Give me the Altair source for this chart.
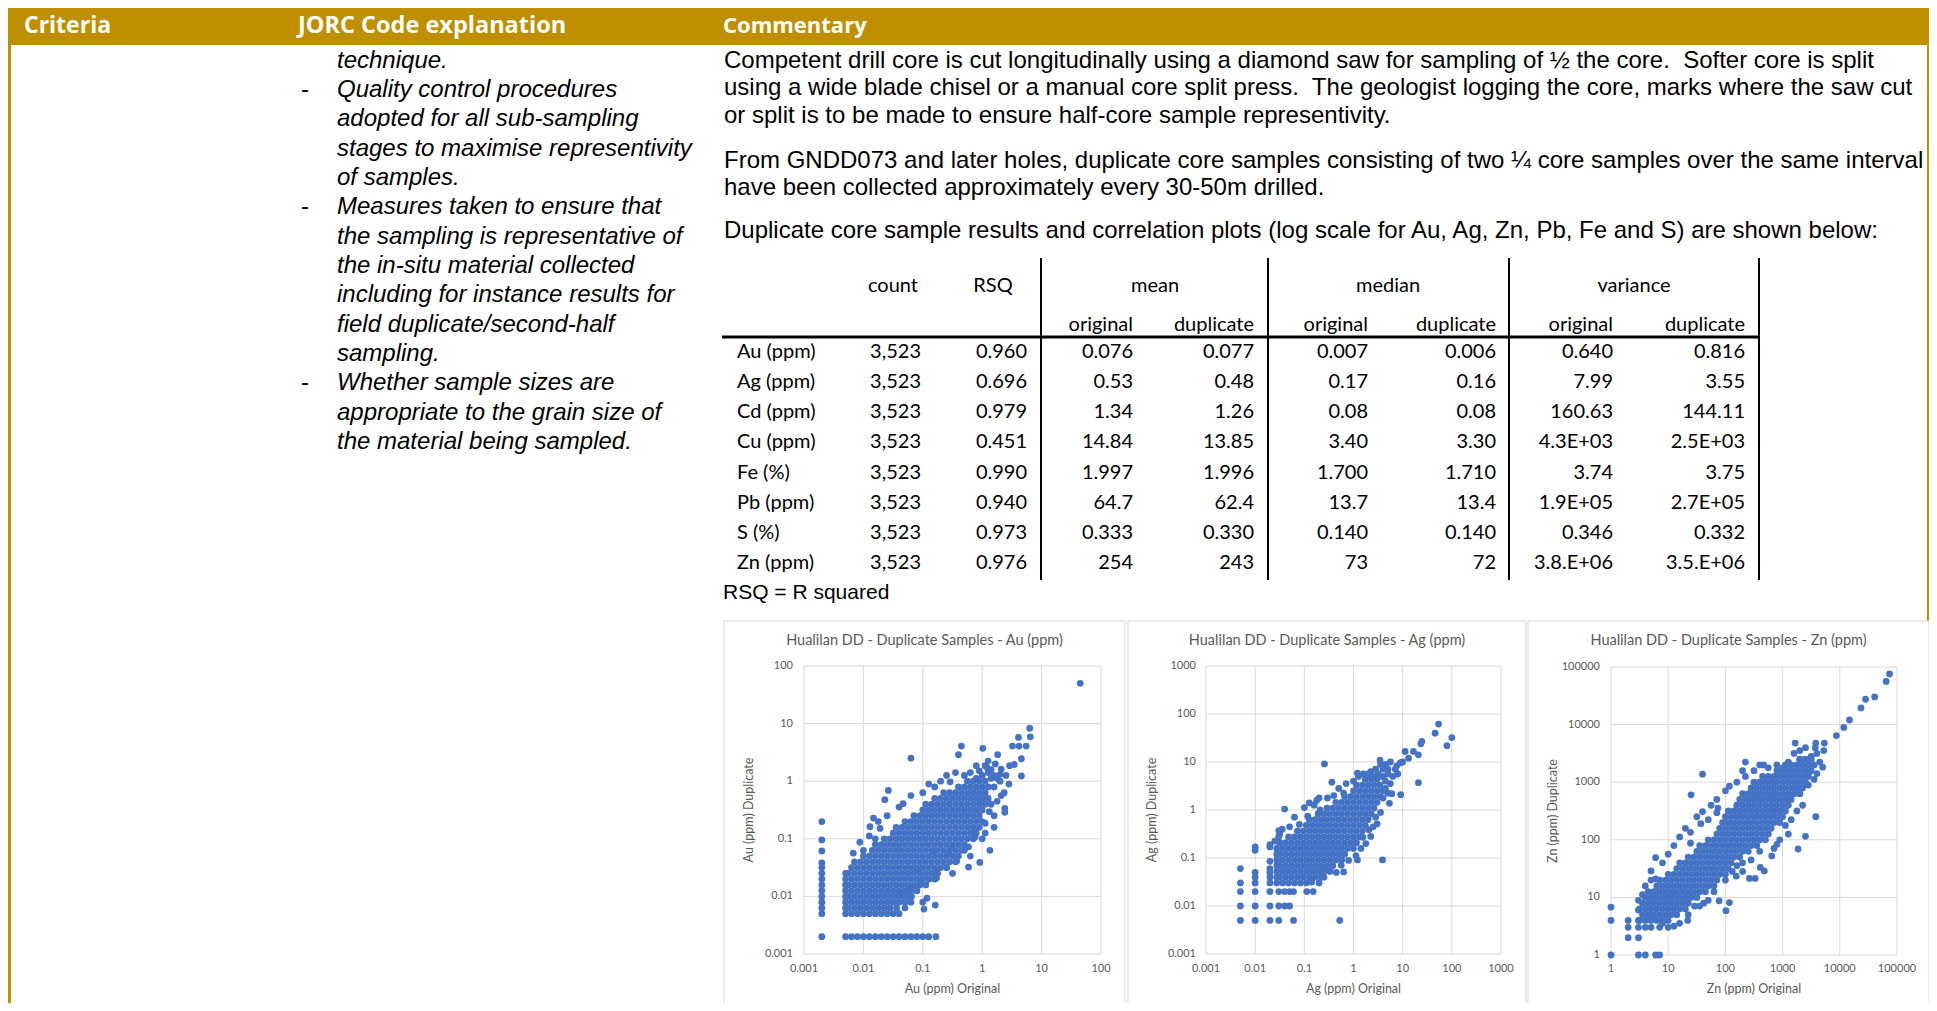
import altair as alt
import pandas as pd

# ------------------------------------------------------------------ text data
HEADERS = ["Criteria", "JORC Code explanation", "Commentary"]
LEFT_LINES = [
    "technique.",
    "Quality control procedures",
    "adopted for all sub-sampling",
    "stages to maximise representivity",
    "of samples.",
    "Measures taken to ensure that",
    "the sampling is representative of",
    "the in-situ material collected",
    "including for instance results for",
    "field duplicate/second-half",
    "sampling.",
    "Whether sample sizes are",
    "appropriate to the grain size of",
    "the material being sampled.",
]
BULLET_LINES = [1, 5, 11]      # left-column lines that start with a dash
PARA_1 = [
    "Competent drill core is cut longitudinally using a diamond saw for sampling of \u00bd the core.\u00a0 Softer core is split",
    "using a wide blade chisel or a manual core split press.\u00a0 The geologist logging the core, marks where the saw cut",
    "or split is to be made to ensure half-core sample representivity.",
]
PARA_2 = [
    "From GNDD073 and later holes, duplicate core samples consisting of two \u00bc core samples over the same interval",
    "have been collected approximately every 30-50m drilled.",
]
PARA_3 = ["Duplicate core sample results and correlation plots (log scale for Au, Ag, Zn, Pb, Fe and S) are shown below:"]
RSQ_NOTE = "RSQ = R squared"

# ------------------------------------------------------------------ table data
GROUPS = ["count", "RSQ", "mean", "median", "variance"]
SUBHEADS = ["original", "duplicate", "original", "duplicate", "original", "duplicate"]
ELEMENTS = ["Au (ppm)", "Ag (ppm)", "Cd (ppm)", "Cu (ppm)", "Fe (%)", "Pb (ppm)", "S (%)", "Zn (ppm)"]
COUNT = ["3,523"] * 8
RSQ = ["0.960", "0.696", "0.979", "0.451", "0.990", "0.940", "0.973", "0.976"]
MEAN_ORIG = ["0.076", "0.53", "1.34", "14.84", "1.997", "64.7", "0.333", "254"]
MEAN_DUP = ["0.077", "0.48", "1.26", "13.85", "1.996", "62.4", "0.330", "243"]
MEDIAN_ORIG = ["0.007", "0.17", "0.08", "3.40", "1.700", "13.7", "0.140", "73"]
MEDIAN_DUP = ["0.006", "0.16", "0.08", "3.30", "1.710", "13.4", "0.140", "72"]
VAR_ORIG = ["0.640", "7.99", "160.63", "4.3E+03", "3.74", "1.9E+05", "0.346", "3.8.E+06"]
VAR_DUP = ["0.816", "3.55", "144.11", "2.5E+03", "3.75", "2.7E+05", "0.332", "3.5.E+06"]

# ------------------------------------------------------------------ scatter data
CHART_TITLES = [
    "Hualilan DD - Duplicate Samples - Au (ppm)",
    "Hualilan DD - Duplicate Samples - Ag (ppm)",
    "Hualilan DD - Duplicate Samples - Zn (ppm)",
]
X_TITLES = ["Au (ppm) Original", "Ag (ppm) Original", "Zn (ppm) Original"]
Y_TITLES = ["Au (ppm) Duplicate", "Ag (ppm) Duplicate", "Zn (ppm) Duplicate"]
AU_TICKS = [0.001, 0.01, 0.1, 1, 10, 100]
AU_TICK_LABELS = ["0.001", "0.01", "0.1", "1", "10", "100"]
AG_TICKS = [0.001, 0.01, 0.1, 1, 10, 100, 1000]
AG_TICK_LABELS = ["0.001", "0.01", "0.1", "1", "10", "100", "1000"]
ZN_TICKS = [1, 10, 100, 1000, 10000, 100000]
ZN_TICK_LABELS = ["1", "10", "100", "1000", "10000", "100000"]

# points, in log10 units: "log10(duplicate): log10(original) ..."
AU_CORE = """
-2.3: -2.3 -2.2 -2.1 -2.0 -1.9 -1.8 -1.7 -1.6 -1.5 -1.4
-2.2: -2.3 -2.25 -2.15 -2.05 -1.95 -1.85 -1.75 -1.65 -1.55
-2.1: -2.3 -2.2 -2.1 -2.0 -1.9 -1.8 -1.7 -1.6 -1.5 -1.4 -1.3
-2.0: -2.3 -2.25 -2.15 -2.05 -1.95 -1.85 -1.75 -1.65 -1.55 -1.45 -1.35 -1.25
-1.9: -2.3 -2.2 -2.1 -2.0 -1.9 -1.8 -1.7 -1.6 -1.5 -1.4 -1.3 -1.2 -1.1
-1.8: -2.3 -2.25 -2.15 -2.05 -1.95 -1.85 -1.75 -1.65 -1.55 -1.45 -1.35 -1.25 -1.15 -1.05 -0.95
-1.7: -2.3 -2.2 -2.1 -2.0 -1.9 -1.8 -1.7 -1.6 -1.5 -1.4 -1.3 -1.2 -1.1 -1.0 -0.9 -0.8
-1.6: -2.3 -2.25 -2.15 -2.05 -1.95 -1.85 -1.75 -1.65 -1.55 -1.45 -1.35 -1.25 -1.15 -1.05 -0.95 -0.85 -0.75
-1.5: -2.2 -2.1 -2.0 -1.9 -1.8 -1.7 -1.6 -1.5 -1.4 -1.3 -1.2 -1.1 -1.0 -0.9 -0.8 -0.7 -0.6
-1.4: -2.15 -2.05 -1.95 -1.85 -1.75 -1.65 -1.55 -1.45 -1.35 -1.25 -1.15 -1.05 -0.95 -0.85 -0.75 -0.65 -0.55 -0.45
-1.3: -2.0 -1.9 -1.8 -1.7 -1.6 -1.5 -1.4 -1.3 -1.2 -1.1 -1.0 -0.9 -0.8 -0.7 -0.6 -0.5 -0.4
-1.2: -1.85 -1.75 -1.65 -1.55 -1.45 -1.35 -1.25 -1.15 -1.05 -0.95 -0.85 -0.75 -0.65 -0.55 -0.45 -0.35
-1.1: -1.8 -1.7 -1.6 -1.5 -1.4 -1.3 -1.2 -1.1 -1.0 -0.9 -0.8 -0.7 -0.6 -0.5 -0.4 -0.3
-1.0: -1.65 -1.55 -1.45 -1.35 -1.25 -1.15 -1.05 -0.95 -0.85 -0.75 -0.65 -0.55 -0.45 -0.35 -0.25 -0.15
-0.9: -1.5 -1.4 -1.3 -1.2 -1.1 -1.0 -0.9 -0.8 -0.7 -0.6 -0.5 -0.4 -0.3 -0.2 -0.1
-0.8: -1.45 -1.35 -1.25 -1.15 -1.05 -0.95 -0.85 -0.75 -0.65 -0.55 -0.45 -0.35 -0.25 -0.15 -0.05
-0.7: -1.3 -1.2 -1.1 -1.0 -0.9 -0.8 -0.7 -0.6 -0.5 -0.4 -0.3 -0.2 -0.1 0.0
-0.6: -1.15 -1.05 -0.95 -0.85 -0.75 -0.65 -0.55 -0.45 -0.35 -0.25 -0.15 -0.05
-0.5: -1.0 -0.9 -0.8 -0.7 -0.6 -0.5 -0.4 -0.3 -0.2 -0.1 0.0
-0.4: -0.95 -0.85 -0.75 -0.65 -0.55 -0.45 -0.35 -0.25 -0.15 -0.05 0.05
-0.3: -0.8 -0.7 -0.6 -0.5 -0.4 -0.3 -0.2 -0.1 0.0 0.1
-0.2: -0.65 -0.55 -0.45 -0.35 -0.25 -0.15 -0.05 0.05
-0.1: -0.4 -0.3 -0.2 -0.1 0.0 0.1
0.0: -0.15 -0.05 0.05
-2.7: -2.3 -2.2 -2.1 -2.0 -1.9 -1.8 -1.7 -1.6 -1.5 -1.4 -1.3 -1.2 -1.1 -1.0 -0.9 -0.78
"""
AU_LOW_COLUMN_DUP = [-0.70, -1.02, -1.21, -1.42, -1.5, -1.6, -1.7, -1.8, -1.9, -2.0, -2.1, -2.2, -2.3, -2.7]
AU_SCATTER = [
    (1.65, 1.70), (0.80, 0.92), (0.81, 0.77), (0.61, 0.76), (0.51, 0.61), (0.62, 0.61), (0.74, 0.61),
    (0.66, 0.39), (0.66, 0.09), (0.54, 0.29), (0.46, 0.27), (-0.35, 0.61), (-0.40, 0.46), (0.01, 0.57),
    (0.26, 0.46), (-0.10, 0.27), (0.05, 0.27), (0.32, 0.21), (0.15, 0.20), (0.20, 0.10), (0.10, 0.15),
    (0.25, 0.05), (-0.20, 0.15), (-0.30, 0.10), (-0.25, 0.00), (0.20, -0.10), (0.30, 0.00), (0.40, 0.10),
    (0.45, -0.05), (0.00, 0.10), (-0.10, 0.05), (0.10, 0.35), (0.15, 0.05), (0.30, 0.12), (-0.05, 0.18),
    (0.08, 0.24), (0.22, 0.30), (-1.20, 0.40), (-1.58, -0.16), (-1.33, -0.39), (-1.64, -0.32), (-1.83, -0.64),
    (-1.89, -0.79), (-1.72, -0.82), (-2.06, -1.06), (-2.17, -1.25), (-0.54, -0.01), (-0.70, 0.00),
    (-0.80, -0.10), (-1.00, -0.20), (-1.20, -0.25), (-1.40, -0.45), (-1.60, -0.60), (-1.75, -0.70),
    (-1.90, -0.95), (-2.00, -1.20), (-1.80, -1.00), (-0.90, -0.05), (-0.60, 0.10), (-0.45, 0.15),
    (0.13, -1.20), (-0.04, -1.41), (-0.23, -1.14), (-0.23, -1.49), (-0.12, -0.86), (-0.12, -0.97),
    (0.05, -0.73), (0.12, -0.53), (0.32, -0.25), (0.38, -0.47), (0.38, -0.54), (-0.04, -0.38), (0.37, -0.20),
    (0.25, -0.35), (0.15, -0.40), (0.20, -0.60), (0.20, -0.80), (0.05, -0.90), (0.00, -1.00), (-0.20, -1.30),
    (-0.30, -1.20), (-0.50, -1.60), (-0.60, -1.50), (-0.79, -2.15), (-0.93, -2.03), (-0.98, -2.22),
    (-1.02, -1.75), (-1.09, -1.54), (-1.19, -2.00), (-1.38, -1.97), (-1.44, -2.20), (-1.22, -1.87),
    (-0.78, -1.55), (-0.77, -1.68), (-0.43, -1.39), (-0.56, -1.26), (-0.82, -1.22), (-0.51, -1.13),
    (-0.90, -1.70), (-1.10, -1.90), (-1.30, -2.20), (-1.20, -2.10), (-1.00, -2.10),
]

AG_CORE = """
-1.52: -1.56 -1.44 -1.32 -1.20 -1.08 -0.96
-1.40: -1.56 -1.50 -1.38 -1.26 -1.14 -1.02 -0.90 -0.78 -0.66
-1.28: -1.56 -1.44 -1.32 -1.20 -1.08 -0.96 -0.84 -0.72 -0.60 -0.48
-1.16: -1.56 -1.50 -1.38 -1.26 -1.14 -1.02 -0.90 -0.78 -0.66 -0.54 -0.42
-1.04: -1.56 -1.44 -1.32 -1.20 -1.08 -0.96 -0.84 -0.72 -0.60 -0.48 -0.36 -0.24
-0.92: -1.56 -1.50 -1.38 -1.26 -1.14 -1.02 -0.90 -0.78 -0.66 -0.54 -0.42 -0.30 -0.18
-0.80: -1.56 -1.44 -1.32 -1.20 -1.08 -0.96 -0.84 -0.72 -0.60 -0.48 -0.36 -0.24 -0.12 0.00
-0.68: -1.50 -1.38 -1.26 -1.14 -1.02 -0.90 -0.78 -0.66 -0.54 -0.42 -0.30 -0.18 -0.06 0.06
-0.56: -1.32 -1.20 -1.08 -0.96 -0.84 -0.72 -0.60 -0.48 -0.36 -0.24 -0.12 0.00 0.12
-0.44: -1.14 -1.02 -0.90 -0.78 -0.66 -0.54 -0.42 -0.30 -0.18 -0.06 0.06 0.18
-0.32: -0.96 -0.84 -0.72 -0.60 -0.48 -0.36 -0.24 -0.12 0.00 0.12 0.24
-0.20: -0.90 -0.78 -0.66 -0.54 -0.42 -0.30 -0.18 -0.06 0.06 0.18 0.30
-0.08: -0.72 -0.60 -0.48 -0.36 -0.24 -0.12 0.00 0.12 0.24 0.36
0.04: -0.54 -0.42 -0.30 -0.18 -0.06 0.06 0.18 0.30 0.42
0.16: -0.36 -0.24 -0.12 0.00 0.12 0.24 0.36 0.48
0.28: -0.18 -0.06 0.06 0.18 0.30 0.42 0.54
0.40: 0.00 0.12 0.24 0.36 0.48 0.60
0.52: 0.06 0.18 0.30 0.42 0.54
0.64: 0.24 0.36 0.48
-2.30: -2.30 -2.00 -1.70 -1.52 -1.22 -0.28
-2.00: -2.30 -2.00 -1.70 -1.52 -1.40 -1.30
-1.70: -2.30 -2.00 -1.70 -1.52 -1.40 -1.30 -1.22 -0.95 -0.82
"""
AG_SCATTER = [
    (-2.30, -1.22), (-2.30, -1.52), (-2.00, -0.77), (-2.00, -0.84), (-2.00, -1.30), (-2.00, -1.40),
    (-2.00, -1.52), (-1.70, -0.72), (-1.70, -0.77), (-1.70, -1.07), (-1.70, -1.22), (-1.70, -1.30),
    (-1.70, -1.40), (-1.70, -1.52), (-1.52, -0.43), (-1.52, -0.56), (-0.70, -1.52),
    (1.73, 1.79), (1.66, 1.60), (2.00, 1.51), (1.90, 1.34), (1.39, 1.43), (1.37, 1.38), (1.32, 1.15),
    (1.05, 1.22), (1.22, 1.22), (1.12, 1.08), (1.00, 1.00), (0.88, 0.92), (0.95, 0.98), (1.32, 0.57),
    (0.96, 0.32), (0.78, 0.34), (0.73, 0.14), (0.54, 1.04), (-0.59, 0.96), (0.08, 0.77), (-0.44, 0.58),
    (-0.53, 0.25), (-0.75, 0.20), (-1.40, 0.02), (-0.93, -0.13), (-0.68, 0.00), (0.59, -1.04), (0.08, -1.04),
    (-0.20, -1.29), (-0.47, -1.21), (0.31, -0.41), (0.48, -0.29), (0.19, -0.57),
    (0.60, 0.70), (0.70, 0.75), (0.65, 0.60), (0.75, 0.55), (0.80, 0.70), (0.85, 0.85), (0.70, 0.85),
    (0.60, 0.85), (0.50, 0.75), (0.40, 0.70), (0.90, 0.75), (0.45, 0.85), (0.35, 0.80), (0.30, 0.75),
    (0.20, 0.75), (0.55, 0.95), (0.65, 0.95), (0.75, 1.00), (0.65, 0.45), (0.70, 0.35), (0.60, 0.25),
    (0.55, -0.05), (0.45, -0.15), (0.40, -0.35), (0.35, -0.55), (0.25, -0.70), (0.15, -0.80), (0.05, -0.95),
    (-0.10, -1.05), (-0.25, -1.15), (-0.35, -1.30), (-0.60, -1.40), (-0.85, -1.50),
    (-1.00, 0.05), (-0.80, 0.10), (-1.10, -0.30), (-1.30, -0.35), (-1.50, -0.50), (-1.20, -0.15),
    (-0.90, 0.15), (-0.70, 0.25), (-0.40, 0.30), (-0.30, 0.45), (-0.15, 0.55), (-0.20, 0.35), (0.00, 0.60),
    (0.10, 0.70), (-1.45, -0.40), (-1.60, -0.65),
]

ZN_CORE = """
0.6: 0.5 0.6 0.7 0.8 0.9 1.0
0.7: 0.55 0.65 0.75 0.85 0.95 1.05 1.15
0.8: 0.5 0.6 0.7 0.8 0.9 1.0 1.1 1.2 1.3
0.9: 0.55 0.65 0.75 0.85 0.95 1.05 1.15 1.25 1.35
1.0: 0.6 0.7 0.8 0.9 1.0 1.1 1.2 1.3 1.4 1.5
1.1: 0.65 0.75 0.85 0.95 1.05 1.15 1.25 1.35 1.45 1.55 1.65
1.2: 0.8 0.9 1.0 1.1 1.2 1.3 1.4 1.5 1.6 1.7 1.8
1.3: 0.85 0.95 1.05 1.15 1.25 1.35 1.45 1.55 1.65 1.75 1.85
1.4: 1.0 1.1 1.2 1.3 1.4 1.5 1.6 1.7 1.8 1.9 2.0
1.5: 1.15 1.25 1.35 1.45 1.55 1.65 1.75 1.85 1.95 2.05
1.6: 1.2 1.3 1.4 1.5 1.6 1.7 1.8 1.9 2.0 2.1
1.7: 1.35 1.45 1.55 1.65 1.75 1.85 1.95 2.05 2.15 2.25
1.8: 1.5 1.6 1.7 1.8 1.9 2.0 2.1 2.2 2.3 2.4
1.9: 1.55 1.65 1.75 1.85 1.95 2.05 2.15 2.25 2.35 2.45 2.55
2.0: 1.7 1.8 1.9 2.0 2.1 2.2 2.3 2.4 2.5 2.6
2.1: 1.85 1.95 2.05 2.15 2.25 2.35 2.45 2.55 2.65 2.75
2.2: 1.9 2.0 2.1 2.2 2.3 2.4 2.5 2.6 2.7 2.8
2.3: 1.95 2.05 2.15 2.25 2.35 2.45 2.55 2.65 2.75 2.85 2.95
2.4: 2.0 2.1 2.2 2.3 2.4 2.5 2.6 2.7 2.8 2.9 3.0
2.5: 2.05 2.15 2.25 2.35 2.45 2.55 2.65 2.75 2.85 2.95 3.05
2.6: 2.2 2.3 2.4 2.5 2.6 2.7 2.8 2.9 3.0 3.1
2.7: 2.25 2.35 2.45 2.55 2.65 2.75 2.85 2.95 3.05 3.15
2.8: 2.3 2.4 2.5 2.6 2.7 2.8 2.9 3.0 3.1 3.2 3.3
2.9: 2.45 2.55 2.65 2.75 2.85 2.95 3.05 3.15 3.25 3.35
3.0: 2.5 2.6 2.7 2.8 2.9 3.0 3.1 3.2 3.3 3.4
3.1: 2.65 2.75 2.85 2.95 3.05 3.15 3.25 3.35 3.45
3.2: 2.9 3.0 3.1 3.2 3.3 3.4 3.5
3.3: 3.05 3.15 3.25 3.35 3.45
3.4: 3.3 3.4 3.5
"""
ZN_SCATTER = [
    (4.87, 4.88), (4.81, 4.75), (4.61, 4.48), (4.45, 4.44), (4.37, 4.29), (4.17, 4.08), (4.07, 3.95),
    (3.94, 3.81), (3.73, 3.68), (3.58, 3.68), (3.72, 3.55), (3.57, 3.60), (3.22, 3.68), (3.70, 3.26),
    (3.58, 2.40), (3.40, 2.06), (3.27, 1.84), (2.81, 1.72), (2.61, 1.52), (2.68, 1.46), (2.52, 1.33),
    (2.19, 1.37), (2.42, 1.33), (2.12, 1.45), (2.90, 1.92), (2.35, 3.35), (2.67, 3.30), (2.35, 3.10),
    (1.60, 3.14), (2.07, 2.93), (1.40, 2.78), (1.60, 2.49), (1.87, 2.55), (1.85, 2.47), (1.57, 2.28),
    (1.70, 2.35), (1.39, 2.13), (1.39, 1.94), (0.78, 1.69), (0.70, 1.46), (0.78, 1.32), (1.89, 0.94),
    (2.07, 0.91), (2.01, 0.77), (1.34, 0.60), (1.62, 0.90), (1.46, 0.85),
    (0.00, 0.83), (0.00, 0.60), (0.00, 0.00), (0.30, 0.60), (0.30, 0.48), (0.30, 0.30), (0.48, 0.95),
    (0.48, 0.78), (0.48, 0.60), (0.48, 0.48), (0.48, 0.30), (0.48, 0.00), (0.60, 0.00), (0.78, 0.00),
    (0.85, 0.00), (0.60, 0.48), (0.70, 0.48), (0.85, 0.48), (1.00, 0.48), (0.90, 0.55),
    (3.20, 3.50), (3.30, 3.55), (3.40, 3.60), (3.50, 3.45), (3.60, 3.50), (3.65, 3.35), (3.55, 3.30),
    (3.45, 3.30), (3.30, 3.40), (3.10, 3.35), (3.00, 3.25), (3.60, 3.15), (3.45, 3.15), (3.55, 3.05),
    (3.45, 2.95), (3.30, 2.80), (3.35, 2.60), (3.25, 2.50), (3.15, 2.35), (3.05, 2.25), (3.10, 2.10),
    (2.95, 2.00), (2.85, 1.85), (2.70, 2.00), (2.60, 1.80), (2.45, 1.65), (2.30, 1.60), (2.20, 1.55),
    (2.30, 1.45), (2.00, 1.30), (1.80, 1.10), (1.70, 0.95), (1.55, 0.85), (1.35, 0.70), (1.20, 0.55),
    (1.10, 0.50), (2.50, 3.20), (2.20, 3.00), (2.00, 2.85), (1.85, 2.70), (1.75, 2.60), (1.50, 2.40),
    (1.30, 2.20), (1.20, 2.05), (1.10, 1.90), (1.00, 1.75), (0.90, 1.60), (0.60, 1.20), (0.70, 1.30),
    (0.55, 1.05), (2.90, 3.30), (2.75, 3.25), (2.60, 3.30), (2.30, 3.20),
]

# ------------------------------------------------------------------ layout / style
M = 8                      # page margin of the saved html
W, H = 1921, 995           # whole drawing (autosize none, padding 0)
GOLD = "#BF8F00"
BLUE = "#4472C4"
GRID = "#D9D9D9"
AXTXT = "#595959"
ARIAL = "Liberation Sans"
CAL = "Lato"
LEFT_TOP, LEFT_LH = 67.5, 29.35


def px(v):
    return v - M


def py(v):
    return v - M


ONE = pd.DataFrame({"k": [0]})


def text(t, x, y, font=ARIAL, size=24, color="black", align="left", baseline="middle",
         weight="normal", style="normal", angle=0, line_height=None):
    props = dict(font=font, fontSize=size, color=color, align=align, baseline=baseline,
                 fontWeight=weight, fontStyle=style)
    if angle:
        props["angle"] = angle
    if line_height:
        props["lineHeight"] = line_height
    return alt.Chart(ONE).mark_text(**props).encode(
        x=alt.value(px(x)), y=alt.value(py(y)), text=alt.value(t))


def rect(x1, y1, x2, y2, fill, stroke=None):
    props = dict(fill=fill)
    if stroke:
        props.update(stroke=stroke, strokeWidth=1)
    else:
        props.update(strokeWidth=0)
    return alt.Chart(ONE).mark_rect(**props).encode(
        x=alt.value(px(x1)), x2=alt.value(px(x2)), y=alt.value(py(y1)), y2=alt.value(py(y2)))


def rule(x1, y1, x2, y2, width, color="black"):
    return alt.Chart(ONE).mark_rule(color=color, strokeWidth=width).encode(
        x=alt.value(px(x1)), x2=alt.value(px(x2)), y=alt.value(py(y1)), y2=alt.value(py(y2)))


# ------------------------------------------------------------------ page background
bg_parts = [
    rect(M, M, 1937, 45, GOLD),
    rect(M, 45, 11, 1011, GOLD),
    rect(1927, 45, 1937, 1011, GOLD),
    text(HEADERS[0], 24, 26, font="Open Sans", size=23, color="white", weight="bold"),
    text(HEADERS[1], 298, 26, font="Open Sans", size=23.5, color="white", weight="bold"),
    text(HEADERS[2], 723, 26, font="Open Sans", size=22, color="white", weight="bold"),
    text(LEFT_LINES, 337, LEFT_TOP, style="italic", baseline="alphabetic", line_height=LEFT_LH),
    text(PARA_1, 724, 67.5, baseline="alphabetic", line_height=27.8),
    text(PARA_2, 724, 167.5, baseline="alphabetic", line_height=27.4),
    text(PARA_3, 724, 238, baseline="alphabetic"),
    text(RSQ_NOTE, 723, 593, size=21),
]
for li in BULLET_LINES:
    bg_parts.append(text("-", 301, LEFT_TOP + li * LEFT_LH, baseline="alphabetic"))

# table rules
for xv in [1041, 1268, 1509, 1759]:
    bg_parts.append(rule(xv, 258, xv, 580, 2))
bg_parts.append(rule(722, 337, 1759, 337, 3))

# table headers
for g, xc in zip(GROUPS, [893, 993, 1155, 1388, 1634]):
    bg_parts.append(text(g, xc, 286, font=CAL, size=20, align="center"))
for s, xr in zip(SUBHEADS, [1133, 1254, 1368, 1496, 1613, 1745]):
    bg_parts.append(text(s, xr, 325, font=CAL, size=20, align="right"))

# chart frames, titles, axis titles
PANELS = [
    dict(box=(724, 1125), plot_x=(804, 1101), plot_y=(666, 954), ylab=793, ytit=749),
    dict(box=(1128, 1526), plot_x=(1206, 1501), plot_y=(666, 954), ylab=1196, ytit=1152),
    dict(box=(1528, 1929), plot_x=(1611, 1897), plot_y=(667, 955), ylab=1600, ytit=1553),
]
for i, p in enumerate(PANELS):
    b0, b1 = p["box"]
    bg_parts.append(rect(b0, 621, b1, 1020, "white", GRID))
    bg_parts.append(text(CHART_TITLES[i], (b0 + b1) / 2, 641, font=CAL, size=14.5, color=AXTXT, align="center"))
    bg_parts.append(text(X_TITLES[i], sum(p["plot_x"]) / 2, 989, font=CAL, size=12.5, color=AXTXT, align="center"))
    bg_parts.append(text(Y_TITLES[i], p["ytit"], sum(p["plot_y"]) / 2, font=CAL, size=12.5, color=AXTXT,
                         align="center", angle=270))

background = alt.layer(*bg_parts)

# ------------------------------------------------------------------ table body
table_df = pd.DataFrame({
    "row": ELEMENTS, "count": COUNT, "rsq": RSQ, "mo": MEAN_ORIG, "md": MEAN_DUP,
    "meo": MEDIAN_ORIG, "med": MEDIAN_DUP, "vo": VAR_ORIG, "vd": VAR_DUP,
})
row_scale = alt.Scale(type="point", domain=ELEMENTS, range=[py(352), py(563)], padding=0)


def table_col(field, x, align):
    return alt.Chart(table_df).mark_text(font=CAL, fontSize=20, align=align, baseline="middle", color="black").encode(
        y=alt.Y("row:N", scale=row_scale, axis=None),
        x=alt.value(px(x)),
        text=alt.Text(f"{field}:N"),
    )


table = alt.layer(
    table_col("row", 737, "left"),
    table_col("count", 921, "right"),
    table_col("rsq", 1027, "right"),
    table_col("mo", 1133, "right"),
    table_col("md", 1254, "right"),
    table_col("meo", 1368, "right"),
    table_col("med", 1496, "right"),
    table_col("vo", 1613, "right"),
    table_col("vd", 1745, "right"),
)


# ------------------------------------------------------------------ scatter panels
def parse_rows(rows):
    pts = []
    for line in rows.strip().splitlines():
        ly, xs = line.split(":")
        for lx in xs.split():
            pts.append((float(lx), float(ly)))
    return pts


def to_df(pts):
    d = pd.DataFrame(pts, columns=["lo", "ld"])
    d["orig"] = 10 ** d["lo"]
    d["dup"] = 10 ** d["ld"]
    return d


def panel(points, ticks, labels, p):
    x0, x1 = p["plot_x"]
    y0, y1 = p["plot_y"]
    xs = alt.Scale(type="log", domain=[ticks[0], ticks[-1]], range=[px(x0), px(x1)], nice=False)
    ys = alt.Scale(type="log", domain=[ticks[0], ticks[-1]], range=[py(y1), py(y0)], nice=False)
    tdf = pd.DataFrame({"v": ticks, "label": labels})
    vgrid = alt.Chart(tdf).mark_rule(color=GRID, strokeWidth=1).encode(
        x=alt.X("v:Q", scale=xs, axis=None), y=alt.value(py(y0)), y2=alt.value(py(y1)))
    hgrid = alt.Chart(tdf).mark_rule(color=GRID, strokeWidth=1).encode(
        y=alt.Y("v:Q", scale=ys, axis=None), x=alt.value(px(x0)), x2=alt.value(px(x1)))
    dots = alt.Chart(to_df(points)).mark_circle(size=46, color=BLUE, opacity=1).encode(
        x=alt.X("orig:Q", scale=xs, axis=None), y=alt.Y("dup:Q", scale=ys, axis=None))
    xlab = alt.Chart(tdf).mark_text(font=CAL, fontSize=11, color=AXTXT, baseline="middle").encode(
        x=alt.X("v:Q", scale=xs, axis=None), y=alt.value(py(969)), text="label:N")
    ylab = alt.Chart(tdf).mark_text(font=CAL, fontSize=11, color=AXTXT, baseline="middle", align="right").encode(
        y=alt.Y("v:Q", scale=ys, axis=None), x=alt.value(px(p["ylab"])), text="label:N")
    return alt.layer(vgrid, hgrid, dots, xlab, ylab)


au_points = parse_rows(AU_CORE) + [(-2.7, v) for v in AU_LOW_COLUMN_DUP] + AU_SCATTER
ag_points = parse_rows(AG_CORE) + AG_SCATTER
zn_points = parse_rows(ZN_CORE) + ZN_SCATTER

chart = alt.layer(
    background,
    table,
    panel(au_points, AU_TICKS, AU_TICK_LABELS, PANELS[0]),
    panel(ag_points, AG_TICKS, AG_TICK_LABELS, PANELS[1]),
    panel(zn_points, ZN_TICKS, ZN_TICK_LABELS, PANELS[2]),
).resolve_scale(
    x="independent", y="independent"
).properties(
    width=W, height=H, padding=0, autosize=alt.AutoSizeParams(type="none")
).configure_view(stroke="transparent")

chart.save("out.html", embed_options={"renderer": "svg", "actions": False})
